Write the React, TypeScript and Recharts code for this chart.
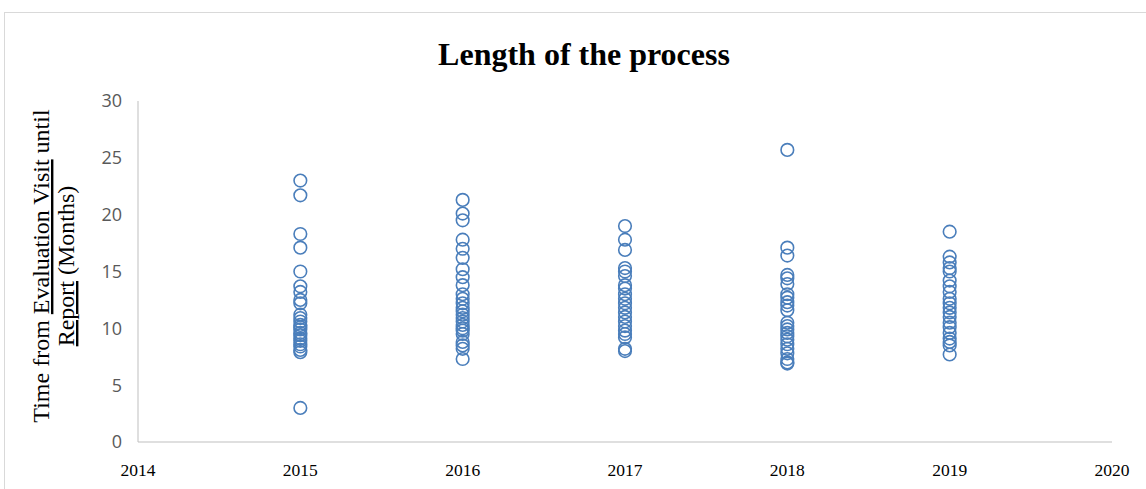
import React from 'react';
import { ScatterChart, Scatter, XAxis, YAxis } from 'recharts';

const years = [2015, 2016, 2017, 2018, 2019];
const xTicks = [2014, 2015, 2016, 2017, 2018, 2019, 2020];
const yTicks = [0, 5, 10, 15, 20, 25, 30];

const values2015 = [23.0, 21.7, 18.3, 17.1, 15.0, 13.7, 13.2, 12.5, 12.2, 11.2, 10.9, 10.6, 10.3, 10.1, 9.9, 9.6, 9.4, 9.1, 8.9, 8.6, 8.4, 8.1, 7.9, 3.0];
const values2016 = [21.3, 20.1, 19.5, 17.8, 17.0, 16.2, 15.2, 14.5, 13.8, 13.0, 12.6, 12.2, 11.8, 11.5, 11.2, 10.9, 10.6, 10.3, 10.0, 9.8, 9.5, 8.8, 8.5, 8.2, 7.3];
const values2017 = [19.0, 17.8, 16.9, 15.3, 15.0, 14.6, 13.8, 13.5, 13.0, 12.6, 12.2, 11.8, 11.4, 11.0, 10.6, 10.2, 9.8, 9.5, 9.2, 8.2, 8.0];
const values2018 = [25.7, 17.1, 16.4, 14.7, 14.4, 13.9, 13.0, 12.7, 12.3, 12.0, 11.6, 10.5, 10.2, 9.9, 9.6, 9.3, 9.0, 8.6, 8.2, 7.8, 7.3, 7.0, 6.9];
const values2019 = [18.5, 16.3, 15.8, 15.3, 15.0, 14.2, 13.7, 13.2, 12.6, 12.2, 11.8, 11.4, 11.0, 10.5, 10.1, 9.6, 9.1, 8.8, 8.5, 7.7];

const seriesValues = [values2015, values2016, values2017, values2018, values2019];
const data = years.flatMap((yr, i) => seriesValues[i].map((v) => ({ year: yr, months: v })));

const COLOR = '#4a7ebb';
const SERIF = "'Liberation Serif', 'Times New Roman', serif";

const Ring = (props: any) => {
  const { cx, cy } = props;
  if (cx == null || cy == null) return null;
  return <circle cx={cx} cy={cy} r={6.3} fill="none" stroke={COLOR} strokeWidth={1.6} />;
};

const YLabel = () => {
  const cy = 266;
  const x1 = 49;
  const x2 = 74;
  return (
    <g fontFamily={SERIF} fontSize={24} fill="#000">
      <text x={x1} y={cy} textAnchor="middle" transform={`rotate(-90 ${x1} ${cy})`}>
        <tspan>Time from </tspan>
        <tspan textDecoration="underline">Evaluation Visit</tspan>
        <tspan> until</tspan>
      </text>
      <text x={x2} y={cy} textAnchor="middle" transform={`rotate(-90 ${x2} ${cy})`}>
        <tspan textDecoration="underline">Report</tspan>
        <tspan> (Months)</tspan>
      </text>
    </g>
  );
};

export default function App() {
  return (
    <div style={{ position: 'absolute', left: 0, top: 0, width: 1146, height: 489, background: '#fff', overflow: 'hidden' }}>
      <div style={{ position: 'absolute', left: 4, top: 12, width: 1160, height: 500, borderTop: '1px solid #d9d9d9', borderLeft: '1px solid #d9d9d9' }} />
      <div
        style={{
          position: 'absolute',
          left: 0,
          top: 34,
          width: 1168,
          textAlign: 'center',
          fontFamily: SERIF,
          fontWeight: 'bold',
          fontSize: 32,
          lineHeight: '40px',
          color: '#000',
        }}
      >
        Length of the process
      </div>
      <div style={{ position: 'absolute', left: 0, top: 0 }}>
        <ScatterChart width={1146} height={489} margin={{ top: 101, right: 34, bottom: 0, left: 0 }}>
          <XAxis
            type="number"
            dataKey="year"
            domain={[2014, 2020]}
            ticks={xTicks}
            tickLine={false}
            tickSize={0}
            tickMargin={22}
            height={47}
            axisLine={{ stroke: '#bfbfbf', strokeWidth: 1 }}
            tick={{ fill: '#000', fontSize: 17.5, fontFamily: SERIF }}
            allowDecimals={false}
          />
          <YAxis
            type="number"
            dataKey="months"
            domain={[0, 30]}
            ticks={yTicks}
            tickLine={false}
            tickSize={0}
            tickMargin={16}
            width={138}
            axisLine={{ stroke: '#bfbfbf', strokeWidth: 1 }}
            tick={{ fill: '#595959', fontSize: 18, fontFamily: "'Open Sans', 'Liberation Sans', sans-serif" }}
            label={{ content: YLabel }}
          />
          <Scatter data={data} shape={Ring} isAnimationActive={false} />
        </ScatterChart>
      </div>
    </div>
  );
}
